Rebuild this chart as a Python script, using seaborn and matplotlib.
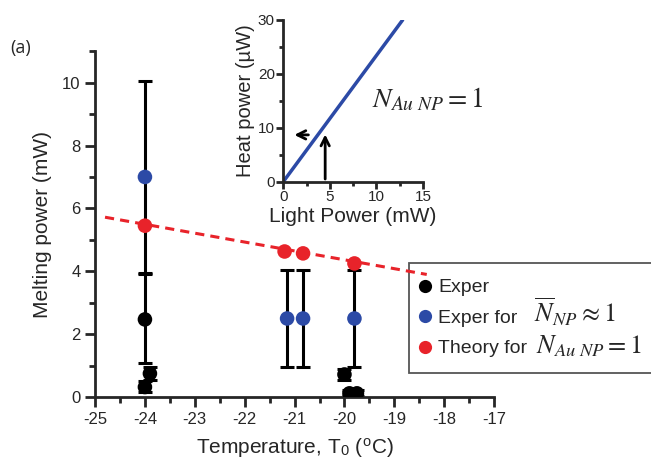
import numpy as np
import pandas as pd
import matplotlib
matplotlib.use("Agg")
import matplotlib.pyplot as plt
import seaborn as sns
from matplotlib.lines import Line2D
from matplotlib.patches import Rectangle
from matplotlib.ticker import MultipleLocator

# ---- data ----
exp_x = [-24.0, -23.9, -24.0, -20.0, -19.9, -19.75]
exp_y = [2.47, 0.75, 0.32, 0.72, 0.12, 0.12]
exp_lo = [1.08, 0.55, 0.15, 0.55, 0.04, 0.04]
exp_hi = [3.90, 0.95, 0.50, 0.90, 0.22, 0.22]

blue_x = [-24.0, -21.15, -20.83, -19.8]
blue_y = [7.0, 2.5, 2.5, 2.5]
blue_lo = [3.95, 0.95, 0.95, 0.95]
blue_hi = [10.05, 4.05, 4.05, 4.05]

red_x = [-24.0, -21.2, -20.83, -19.8]
red_y = [5.45, 4.63, 4.57, 4.25]

theory_x = [-24.8, -18.35]
theory_y = [5.72, 3.90]

inset_x = [0.0, 12.8]
inset_y = [0.0, 30.0]

legend_plain = ["Exper", "Exper for", "Theory for"]
legend_math = [None, "$\\overline{N}_{NP} \\approx 1$", "$N_{Au\\ NP} = 1$"]

BLUE = "#2c4aa6"
RED = "#e8232a"

sns.set_style("ticks")
plt.rcParams["font.family"] = ["Liberation Sans", "DejaVu Sans"]
plt.rcParams["mathtext.fontset"] = "stix"
plt.rcParams["axes.unicode_minus"] = False

fig = plt.figure(figsize=(6.51, 4.65), dpi=100)
ax = fig.add_axes([0.146, 0.146, 0.613, 0.744])

# error bars
for xs, ys, lo, hi in [(blue_x, blue_y, blue_lo, blue_hi), (exp_x, exp_y, exp_lo, exp_hi)]:
    ys = np.array(ys); lo = np.array(lo); hi = np.array(hi)
    ax.errorbar(xs, ys, yerr=[ys - lo, hi - ys], fmt="none", ecolor="black",
                elinewidth=2.2, capsize=5, capthick=2.2, zorder=2)

# theory dashed line
sns.lineplot(x=theory_x, y=theory_y, ax=ax, color=RED, lw=2.2, linestyle=(0, (3, 2)), zorder=6)

df = pd.DataFrame({
    "x": exp_x + blue_x + red_x,
    "y": exp_y + blue_y + red_y,
    "s": ["Exper"] * len(exp_x) + ["Blue"] * len(blue_x) + ["Red"] * len(red_x),
})
sns.scatterplot(data=df, x="x", y="y", hue="s", palette={"Exper": "black", "Blue": BLUE, "Red": RED},
                s=110, edgecolor="none", ax=ax, legend=False, zorder=4)

ax.set_xlim(-25, -17)
ax.set_ylim(0, 11)
ax.xaxis.set_major_locator(MultipleLocator(1))
ax.xaxis.set_minor_locator(MultipleLocator(0.5))
ax.set_yticks([0, 2, 4, 6, 8, 10])
ax.yaxis.set_minor_locator(MultipleLocator(1))
ax.tick_params(which="major", length=7, width=2, labelsize=12, direction="out")
ax.tick_params(which="minor", length=4, width=2, direction="out")
for s in ["left", "bottom"]:
    ax.spines[s].set_linewidth(2)
sns.despine(ax=ax)
ax.set_xlabel("Temperature, T$_\\mathregular{0}$ ($^\\mathregular{o}$C)", fontsize=15, labelpad=7)
ax.set_ylabel("Melting power (mW)", fontsize=15, labelpad=7)

# legend box (extends past the right edge like the reference)
box = Rectangle((0.6283, 0.1978), 0.3856, 0.2366, transform=fig.transFigure, facecolor="white",
                edgecolor="#555555", linewidth=1.3, clip_on=False, zorder=4.5)
ax.add_patch(box)

handles = [
    Line2D([], [], marker="o", color="none", markerfacecolor=c, markeredgecolor="none", markersize=9.5)
    for c in ["black", BLUE, RED]
]
leg = ax.legend(handles, legend_plain, loc="upper left", bbox_to_anchor=(0.787, 0.370),
                fontsize=14, frameon=False, handlelength=0.6,
                handletextpad=0.4, borderpad=0.5, labelspacing=0.66, borderaxespad=0)
leg.set_zorder(5)

# inset
ins = fig.add_axes([0.435, 0.609, 0.215, 0.348])
sns.lineplot(x=inset_x, y=inset_y, ax=ins, color=BLUE, lw=2.5)
ins.set_xlim(0, 15)
ins.set_ylim(0, 30)
ins.set_xticks([0, 5, 10, 15])
ins.set_yticks([0, 10, 20, 30])
ins.xaxis.set_minor_locator(MultipleLocator(2.5))
ins.yaxis.set_minor_locator(MultipleLocator(5))
ins.tick_params(which="major", length=5, width=2, labelsize=11, pad=1)
ins.tick_params(which="minor", length=3, width=2)
for s in ["left", "bottom"]:
    ins.spines[s].set_linewidth(2)
sns.despine(ax=ins)
ins.set_xlabel("Light Power (mW)", fontsize=15, labelpad=2)
ins.set_ylabel("Heat power (\u00b5W)", fontsize=14.5, labelpad=2)
ins.annotate("", xy=(4.5, 9.3), xytext=(4.5, 0), arrowprops=dict(arrowstyle="->", lw=2, color="black", mutation_scale=15))
ins.annotate("", xy=(0.9, 8.7), xytext=(3.0, 8.7), arrowprops=dict(arrowstyle="->", lw=2, color="black", mutation_scale=15))

fig.text(0.571, 0.770, "$N_{Au\\ NP} = 1$", fontsize=20)
fig.text(0.015, 0.885, "(a)", fontsize=13, family=["Open Sans", "DejaVu Sans"])

# math parts of the legend labels, placed right after the plain text
fig.canvas.draw()
renderer = fig.canvas.get_renderer()
W, H = fig.bbox.width, fig.bbox.height
gaps = [0, 16, 9]
for txt, plain, math, gap in zip(leg.get_texts(), legend_plain, legend_math, gaps):
    if math is None:
        continue
    fp = txt.get_fontproperties()
    bb = txt.get_window_extent(renderer)
    _, _, d = renderer.get_text_width_height_descent(plain, fp, ismath=False)
    _, _, lpd = renderer.get_text_width_height_descent("lp", fp, ismath=False)
    baseline = bb.y0 + max(d, lpd)
    fig.text((bb.x1 + gap) / W, baseline / H, math, fontsize=19, va="baseline", zorder=10)

fig.savefig("out.png", dpi=100)
